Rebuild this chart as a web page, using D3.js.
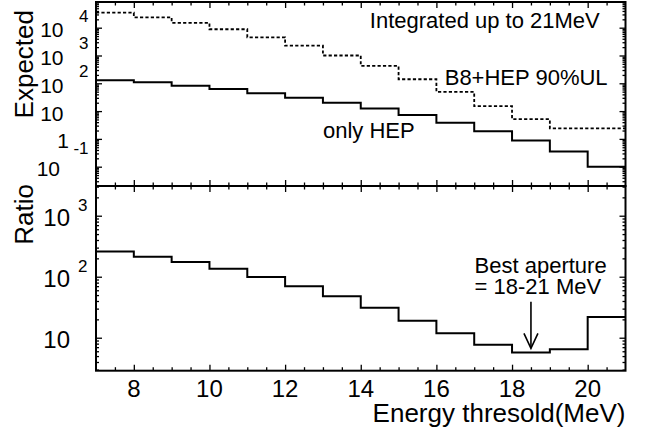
<!DOCTYPE html>
<html><head><meta charset="utf-8">
<script src="https://cdn.jsdelivr.net/npm/d3@7"></script>
<style>
html,body{margin:0;padding:0;background:#fff}
svg{display:block}
text{font-family:"Liberation Sans",Arial,Helvetica,sans-serif;fill:#000}
</style>
</head><body>
<svg id="c" width="654" height="434"></svg>
<script>
// ---- data ----
const binEdges = [7,8,9,10,11,12,13,14,15,16,17,18,19,20,21];
const onlyHEP  = [130,109,82,62,44,30,20,12.5,7.2,3.8,1.9,0.87,0.35,0.1];
const b8HepUL  = [34600,23600,15000,8800,4500,2250,1000,420,140,49,15,5.1,2.4,2.4];
const ratio    = [258,213,174,135,99,70,48,31,19,11.8,7.7,5.7,6.45,21.9];
const xTickLabels = [8,10,12,14,16,18,20];
const topTickValues = [1e4,1e3,1e2,10,1,0.1];
const topTickBase   = ["10","10","10","10","1","10"];
const topTickExp    = ["4","3","2","","","-1"];
const botTickValues = [1e3,1e2,10];
const botTickBase   = ["10","10","10"];
const botTickExp    = ["3","2",""];
const arrowAt = {x:18.5, from:39, to:6.7};

// ---- layout ----
const W=654,H=434;
const L=96,R=625.5, topT=2, mid=186, botB=370.7;
const svg=d3.select("#c");
svg.append("rect").attr("width",W).attr("height",H).attr("fill","#fff");

const x=d3.scaleLinear().domain([7,21]).range([L,R]);
const yTop=d3.scaleLog().domain([0.0202,84000]).range([mid,topT]);
const yBot=d3.scaleLog().domain([2.88,3070]).range([botB,mid]);

function minorLog(scale){
  const [a,b]=scale.domain(); const out=[];
  for(let e=Math.floor(Math.log10(a));e<=Math.ceil(Math.log10(b));e++){
    for(let k=2;k<=9;k++){const v=k*Math.pow(10,e); if(v>=a&&v<=b) out.push(v);}
  }
  return out;
}
function majorLog(scale){
  const [a,b]=scale.domain(); const out=[];
  for(let e=Math.floor(Math.log10(a));e<=Math.ceil(Math.log10(b));e++){const v=Math.pow(10,e); if(v>=a&&v<=b) out.push(v);}
  return out;
}
const xMinor=d3.range(7.5,21,0.5).filter(v=>v%2!==0);
const xMajor=[8,10,12,14,16,18,20];

function axes(yS, yT, yB){
  const g=svg.append("g");
  const add=(axis,tx,ty)=>{
    const a=g.append("g").attr("transform",`translate(${tx},${ty})`).call(axis);
    a.select(".domain").remove();
    a.selectAll("line").attr("stroke","#000").attr("stroke-width",1.3);
  };
  add(d3.axisLeft(yS).tickValues(majorLog(yS)).tickSize(-6).tickFormat(""),L,0);
  add(d3.axisLeft(yS).tickValues(minorLog(yS)).tickSize(-3).tickFormat(""),L,0);
  add(d3.axisRight(yS).tickValues(majorLog(yS)).tickSize(-6).tickFormat(""),R,0);
  add(d3.axisRight(yS).tickValues(minorLog(yS)).tickSize(-3).tickFormat(""),R,0);
  add(d3.axisBottom(x).tickValues(xMajor).tickSize(-6).tickFormat(""),0,yB);
  add(d3.axisBottom(x).tickValues(xMinor).tickSize(-3.5).tickFormat(""),0,yB);
  add(d3.axisTop(x).tickValues(xMajor).tickSize(-6).tickFormat(""),0,yT);
  add(d3.axisTop(x).tickValues(xMinor).tickSize(-3.5).tickFormat(""),0,yT);
  g.append("rect").attr("x",L).attr("y",yT).attr("width",R-L).attr("height",yB-yT)
    .attr("fill","none").attr("stroke","#000").attr("stroke-width",2);
}

function stepPath(vals,yS){
  const pts=vals.map((v,i)=>[binEdges[i],v]);
  pts.push([binEdges[binEdges.length-1],vals[vals.length-1]]);
  return d3.line().x(d=>x(d[0])).y(d=>yS(d[1])).curve(d3.curveStepAfter)(pts);
}

// ---- histograms ----
svg.append("path").attr("d",stepPath(b8HepUL,yTop)).attr("fill","none")
  .attr("stroke","#000").attr("stroke-width",1.8).attr("stroke-dasharray","3.2,2.2");
svg.append("path").attr("d",stepPath(onlyHEP,yTop)).attr("fill","none")
  .attr("stroke","#000").attr("stroke-width",2);
svg.append("path").attr("d",stepPath(ratio,yBot)).attr("fill","none")
  .attr("stroke","#000").attr("stroke-width",2);

axes(yTop,topT,mid);
axes(yBot,mid,botB);

// ---- y tick labels ----
topTickValues.forEach((v,i)=>{
  const ty=yTop(v), exp=topTickExp[i], base=topTickBase[i];
  let bx = exp.length>1 ? 60 : (base==="1" ? 69 : 63.5);
  svg.append("text").attr("x",bx).attr("y",ty+9.5).attr("text-anchor","end")
    .attr("font-size",21).text(base);
  if(exp){
    svg.append("text").attr("x",88.5).attr("y",exp[0]==="-"?ty-13:ty-6).attr("text-anchor","end")
      .attr("font-size",17).text(exp);
  }
});
botTickValues.forEach((v,i)=>{
  const ty=yBot(v), exp=botTickExp[i];
  svg.append("text").attr("x",70).attr("y",ty+10).attr("text-anchor","end")
    .attr("font-size",24).text(botTickBase[i]);
  if(exp){
    svg.append("text").attr("x",78).attr("y",ty-4.5).attr("font-size",17).text(exp);
  }
});

// ---- x tick labels ----
xTickLabels.forEach(v=>{
  svg.append("text").attr("x",x(v)).attr("y",396.5).attr("text-anchor","middle")
    .attr("font-size",24).text(v);
});

// ---- axis titles ----
svg.append("text").attr("x",R).attr("y",422).attr("text-anchor","end")
  .attr("font-size",26).text("Energy thresold(MeV)");
svg.append("text").attr("transform","translate(33.3,10) rotate(-90)")
  .attr("text-anchor","end").attr("font-size",26).text("Expected");
svg.append("text").attr("transform","translate(33.3,184) rotate(-90)")
  .attr("text-anchor","end").attr("font-size",26).text("Ratio");

// ---- annotations ----
svg.append("text").attr("x",x(14.24)).attr("y",yTop(9800)).attr("font-size",22).text("Integrated up to 21MeV");
svg.append("text").attr("x",x(16.22)).attr("y",yTop(87)).attr("font-size",22).text("B8+HEP 90%UL");
svg.append("text").attr("x",x(13.0)).attr("y",yTop(1.09)).attr("font-size",22).text("only HEP");
svg.append("text").attr("x",x(17.01)).attr("y",yBot(115)).attr("font-size",22).text("Best aperture");
svg.append("text").attr("x",x(17.01)).attr("y",yBot(52)).attr("font-size",22).text("= 18-21 MeV");

// arrow
const ax=x(arrowAt.x), ay0=yBot(arrowAt.from), ay1=yBot(arrowAt.to);
svg.append("line").attr("x1",ax).attr("x2",ax).attr("y1",ay0).attr("y2",ay1)
  .attr("stroke","#000").attr("stroke-width",1.6);
svg.append("path").attr("d",`M${ax-7},${ay1-15}L${ax},${ay1}L${ax+7},${ay1-15}`)
  .attr("fill","none").attr("stroke","#000").attr("stroke-width",1.6);
</script>
</body></html>
